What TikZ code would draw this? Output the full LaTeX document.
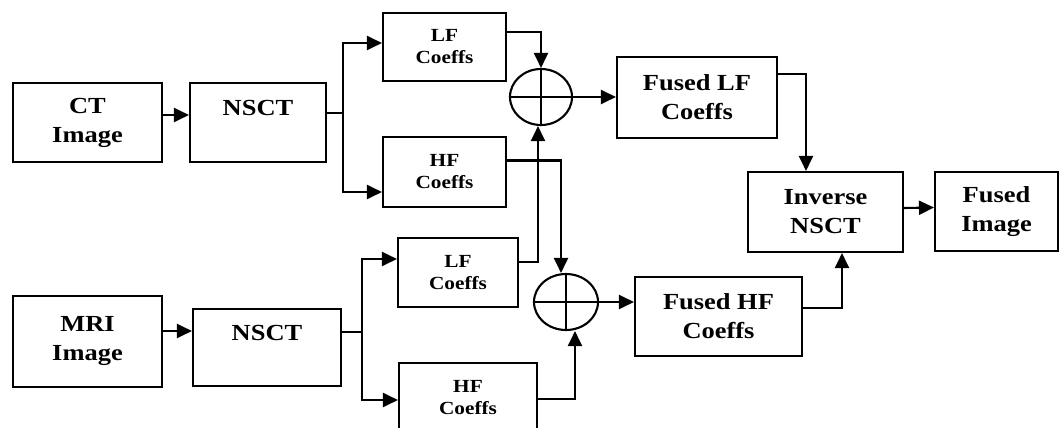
\documentclass[tikz,border=0pt]{standalone}
\usepackage{fontspec}
\setmainfont[FakeStretch=1.15]{Liberation Serif}
\usetikzlibrary{arrows.meta,shapes.geometric}
\begin{document}
\begin{tikzpicture}[x=1pt,y=-1pt,
  line width=2.1pt,
  blk/.style={draw,rectangle,inner sep=0pt,align=center,font=\fontsize{23}{29}\selectfont\bfseries},
  sblk/.style={draw,rectangle,inner sep=0pt,align=center,font=\fontsize{18.5}{22}\selectfont\bfseries},
  summ/.style={draw,ellipse,inner sep=0pt,minimum width=62pt,minimum height=56pt},
  arr/.style={-{Triangle[length=15pt,width=14pt]}},
  ]
\useasboundingbox (0,0) rectangle (1061,428);
\clip (0,0) rectangle (1061,428);
% top row
\node[blk,minimum width=149pt,minimum height=79pt] (ct) at (87.5,122.5) {CT\\Image};
\node[blk,minimum width=136pt,minimum height=79pt] (nsct1) at (258,122.5) {NSCT\\\mbox{}};
\node[sblk,minimum width=123pt,minimum height=68pt] (lf1) at (444.5,47) {LF\\Coeffs};
\node[sblk,minimum width=123pt,minimum height=70pt] (hf1) at (444.5,172) {HF\\Coeffs};
\node[summ] (c1) at (541,97) {};
\node[blk,minimum width=160pt,minimum height=81pt] (flf) at (697,97.5) {Fused LF\\Coeffs};
\node[blk,minimum width=155pt,minimum height=80pt] (inv) at (825.5,212) {Inverse\\NSCT};
\node[blk,minimum width=123pt,minimum height=79pt] (fi) at (996.5,211.5) {Fused\\Image};
% bottom row
\node[blk,minimum width=149pt,minimum height=91pt] (mri) at (87.5,341.5) {MRI\\Image};
\node[blk,minimum width=148pt,minimum height=77pt] (nsct2) at (267,347.5) {NSCT\\\mbox{}};
\node[sblk,minimum width=120pt,minimum height=69pt] (lf2) at (458,272.5) {LF\\Coeffs};
\node[sblk,minimum width=138pt,minimum height=70pt] (hf2) at (468,398) {HF\\Coeffs};
\node[summ,minimum width=64pt] (c2) at (566,302) {};
\node[blk,minimum width=167pt,minimum height=79pt] (fhf) at (718.5,316.5) {Fused HF\\Coeffs};
% crosses in the summing junctions
\draw (c1.north) -- (c1.south) (c1.west) -- (c1.east);
\draw (c2.north) -- (c2.south) (c2.west) -- (c2.east);
% branch points
\coordinate (b1) at (343,113);
\coordinate (b2) at (362,332);
% connectors top
\draw[arr] ([yshift=7.5pt]ct.east) -- ([yshift=7.5pt]nsct1.west);
\draw ([yshift=9.5pt]nsct1.east) -- (b1);
\draw[arr] (b1) |- ([yshift=4pt]lf1.west);
\draw[arr] (b1) |- ([yshift=-20pt]hf1.west);
\draw[arr] ([yshift=15pt]lf1.east) -| (c1.north);
\draw[arr] (c1.east) -- (c1.east -| flf.west);
\draw[arr] ([yshift=23.5pt]flf.east) -| ([xshift=-19.5pt]inv.north);
\draw[arr] ([yshift=4pt]inv.east) -- ([yshift=4pt]fi.west);
\draw[arr] ([yshift=11.5pt]hf1.east) -| ([xshift=-5pt]c2.north);
% connectors bottom
\draw[arr] ([yshift=10.5pt]mri.east) -- ([yshift=10.5pt]mri.east -| nsct2.west);
\draw ([yshift=15.5pt]nsct2.east) -- (b2);
\draw[arr] (b2) |- ([yshift=13.5pt]lf2.west);
\draw[arr] (b2) |- ([yshift=-2pt]hf2.west);
\draw[arr] ([yshift=10.5pt]lf2.east) -| ([xshift=-3pt]c1.south);
\draw[arr] ([yshift=-1pt]hf2.east) -| ([xshift=9pt]c2.south);
\draw[arr] (c2.east) -- (c2.east -| fhf.west);
\draw[arr] ([yshift=8.5pt]fhf.east) -| ([xshift=16.5pt]inv.south);
\end{tikzpicture}
\end{document}
